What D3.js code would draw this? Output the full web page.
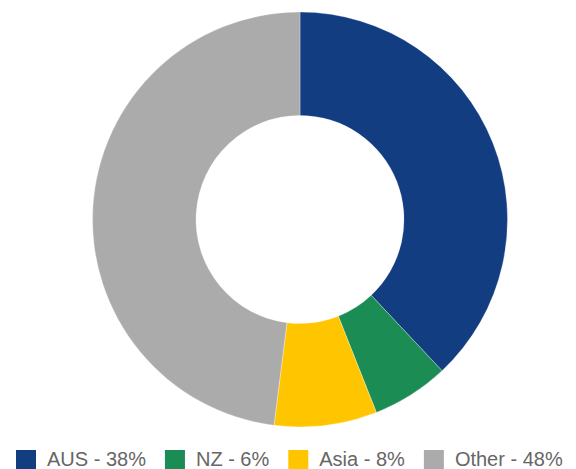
<!DOCTYPE html>
<html>
<head>
<meta charset="utf-8">
<script src="https://cdn.jsdelivr.net/npm/d3@7"></script>
<style>
html,body{margin:0;padding:0;background:#fff;}
svg{display:block;}
</style>
</head>
<body>
<svg id="chart" width="576" height="469"></svg>
<script>
const categories = ["AUS", "NZ", "Asia", "Other"];
const values = [38, 6, 8, 48];
const labels = ["AUS - 38%", "NZ - 6%", "Asia - 8%", "Other - 48%"];
const colors = ["#123d80", "#1b8c53", "#ffc600", "#ababab"];

const svg = d3.select("#chart");
const cx = 300, cy = 219.5, outerR = 207.5, innerR = 104;

const pie = d3.pie().sort(null).value(d => d)(values);
const arc = d3.arc().innerRadius(innerR).outerRadius(outerR);

svg.append("g")
  .attr("transform", `translate(${cx},${cy})`)
  .selectAll("path")
  .data(pie)
  .join("path")
  .attr("d", arc)
  .attr("fill", (d, i) => colors[i])
  .attr("stroke", "#fff")
  .attr("stroke-width", 0.5)
  .attr("stroke-opacity", 0.6);

// Legend
const legend = svg.append("g");
let x = 16;
const sq = 20, gapText = 11, gapItem = 19;
const sqTop = 450, baseline = 466;
labels.forEach((lab, i) => {
  legend.append("rect")
    .attr("x", x).attr("y", sqTop)
    .attr("width", sq).attr("height", sq)
    .attr("fill", colors[i]);
  const t = legend.append("text")
    .attr("x", x + sq + gapText)
    .attr("y", baseline)
    .attr("font-family", "'Liberation Sans', Arial, sans-serif")
    .attr("font-size", 20)
    .attr("fill", "#666666")
    .text(lab);
  const w = t.node().getComputedTextLength();
  x += sq + gapText + w + gapItem;
});
</script>
</body>
</html>
